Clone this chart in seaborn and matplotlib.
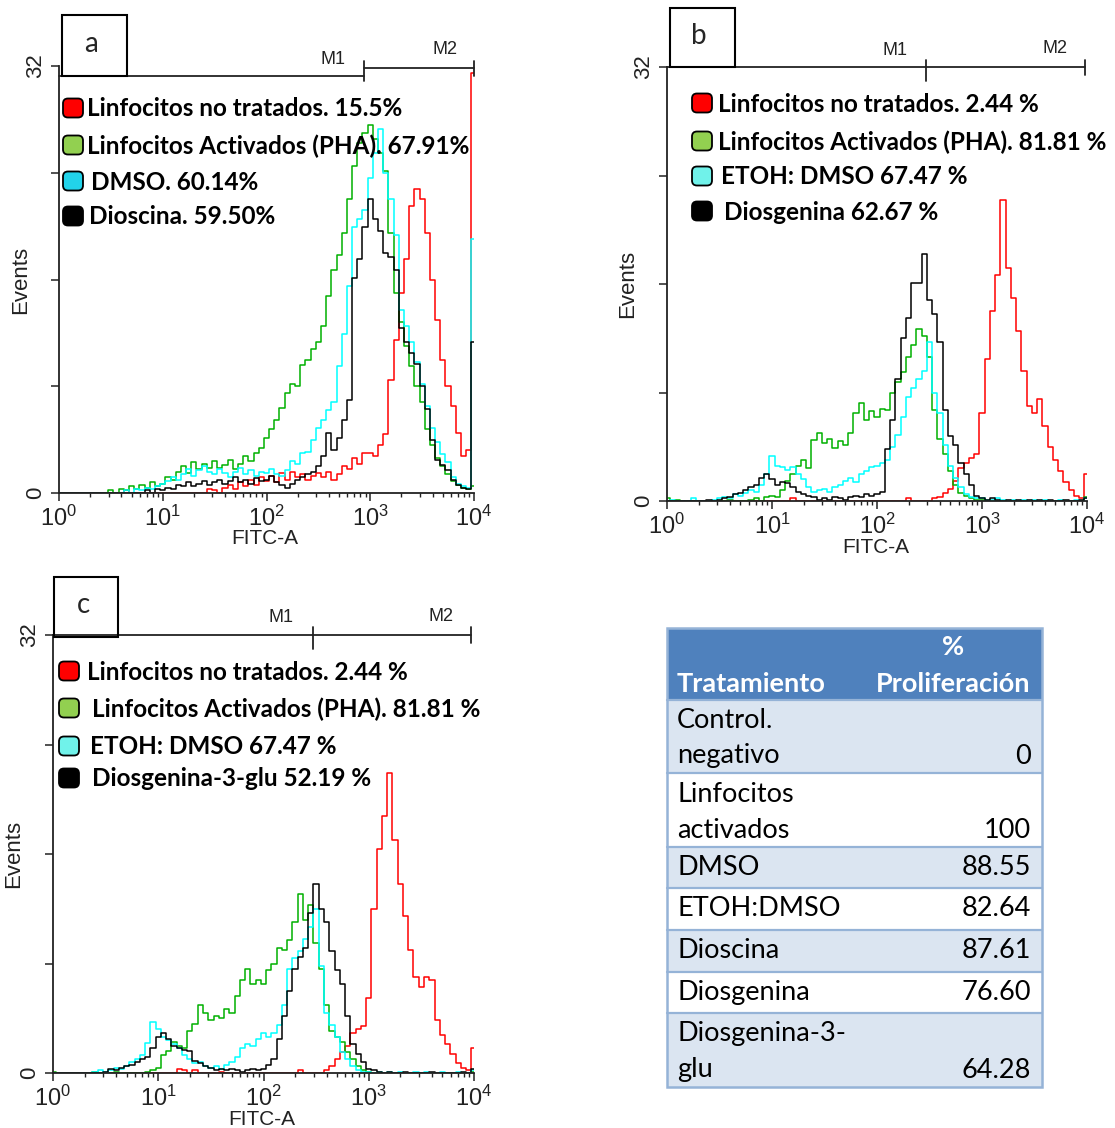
import numpy as np
import pandas as pd
import matplotlib
matplotlib.use("Agg")
import matplotlib.pyplot as plt
import seaborn as sns
from matplotlib.patches import Rectangle, FancyBboxPatch

sns.set_theme(style="white")
plt.rcParams['font.family'] = ['Liberation Sans', 'DejaVu Sans']
plt.rcParams['mathtext.fontset'] = 'custom'
plt.rcParams['mathtext.rm'] = 'Liberation Sans'
plt.rcParams['mathtext.it'] = 'Liberation Sans'

# canales del histograma (log10 FITC-A)
log_fitc = [0.00, 0.05, 0.10, 0.15, 0.20, 0.25, 0.30, 0.35, 0.40, 0.45,
            0.50, 0.55, 0.60, 0.65, 0.70, 0.75, 0.80, 0.85, 0.90, 0.95,
            1.00, 1.05, 1.10, 1.15, 1.20, 1.25, 1.30, 1.35, 1.40, 1.45,
            1.50, 1.55, 1.60, 1.65, 1.70, 1.75, 1.80, 1.85, 1.90, 1.95,
            2.00, 2.05, 2.10, 2.15, 2.20, 2.25, 2.30, 2.35, 2.40, 2.45,
            2.50, 2.55, 2.60, 2.65, 2.70, 2.75, 2.80, 2.85, 2.90, 2.95,
            3.00, 3.05, 3.10, 3.15, 3.20, 3.25, 3.30, 3.35, 3.40, 3.45,
            3.50, 3.55, 3.60, 3.65, 3.70, 3.75, 3.80, 3.85, 3.90, 3.95,
            4.00]

# ---- panel a
a_red = [0, 0, 0, 0, 0, 0, 0, 0, 0, 0,
         0, 0, 0, 0.2, 0, 0, 0, 0, 0, 0,
         0, 0, 0, 0, 0, 0, 0, 0, 0, 0.3,
         0.2, 0, 0.4, 0.6, 0.3, 0.8, 0.5, 1.0, 0.6, 1.2,
         0.9, 1.3, 0.8, 1.5, 1.0, 1.6, 1.2, 1.4, 1.0, 1.3,
         1.5, 1.2, 1.6, 1.0, 1.4, 2.0, 1.8, 2.6, 2.2, 3.0,
         3.0, 2.8, 3.6, 4.4, 8.5, 11.5, 15.0, 17.5, 21.5, 22.8,
         22.0, 19.5, 16.0, 13.0, 10.0, 8.0, 6.5, 4.5, 2.8, 3.2,
         31.5]
a_green = [0, 0, 0, 0, 0, 0, 0, 0, 0, 0,
           0.2, 0, 0.3, 0.2, 0.5, 0.3, 0.6, 0.4, 0.8, 0.5,
           0.7, 1.2, 1.0, 1.6, 2.0, 1.5, 2.3, 1.8, 2.2, 1.9,
           2.4, 1.9, 2.1, 2.5, 1.8, 2.2, 2.8, 2.4, 3.0, 3.4,
           4.1, 4.8, 5.5, 6.4, 7.5, 8.2, 8.0, 9.6, 10.0, 10.8,
           11.3, 12.5, 14.8, 16.7, 17.8, 19.5, 22.0, 24.5, 26.2, 27.0,
           27.6, 26.5, 25.5, 24.1, 19.5, 15.0, 12.8, 11.0, 9.5, 8.0,
           6.8, 4.8, 3.6, 2.6, 2.0, 1.4, 0.9, 0.6, 0.4, 0.3,
           0.5]
a_cyan = [0, 0, 0, 0, 0, 0, 0, 0, 0, 0,
          0, 0, 0, 0.2, 0, 0.3, 0.2, 0.4, 0.3, 0.5,
          0.7, 0.9, 1.2, 1.0, 1.4, 1.8, 1.3, 1.7, 2.0, 1.6,
          1.4, 1.8, 1.5, 1.2, 1.6, 1.9, 1.4, 1.7, 1.3, 1.6,
          1.5, 1.8, 1.4, 1.3, 1.7, 2.4, 2.2, 3.0, 3.1, 4.0,
          4.9, 5.5, 6.2, 6.8, 9.5, 11.9, 15.5, 19.9, 20.5, 21.2,
          23.6, 25.5, 27.3, 24.0, 22.0, 19.3, 13.7, 12.5, 11.3, 9.8,
          8.2, 6.5, 4.9, 3.8, 2.9, 2.3, 1.2, 0.7, 0.5, 0.4,
          19.0]
a_black = [0, 0, 0, 0, 0, 0, 0, 0, 0, 0,
           0, 0, 0, 0, 0, 0, 0, 0.2, 0, 0.3,
           0.2, 0.4, 0.3, 0.6, 0.5, 0.8, 0.5, 0.7, 0.9, 0.6,
           0.8, 1.0, 0.7, 0.9, 1.2, 0.8, 1.0, 0.7, 1.1, 0.9,
           1.0, 1.3, 0.8, 0.6, 0.4, 0.7, 1.0, 1.2, 1.4, 1.6,
           2.0, 2.8, 4.5, 3.2, 4.1, 5.5, 7.0, 16.1, 17.5, 19.9,
           22.0, 20.5, 19.6, 18.0, 17.7, 16.7, 12.4, 11.3, 10.5, 9.7,
           8.0, 6.3, 4.0, 2.5, 2.1, 1.7, 1.0, 0.6, 0.4, 0.3,
           11.3]

# ---- panel b
b_red = [0, 0, 0, 0, 0, 0, 0, 0, 0, 0,
         0, 0, 0, 0, 0, 0, 0, 0, 0, 0,
         0, 0, 0, 0, 0.2, 0, 0, 0, 0, 0,
         0, 0, 0, 0, 0, 0, 0, 0, 0, 0,
         0, 0, 0, 0, 0, 0, 0.2, 0, 0, 0,
         0, 0.2, 0.3, 0.6, 0.9, 1.5, 2.4, 2.8, 3.2, 3.5,
         6.5, 10.5, 14.0, 16.7, 22.2, 17.2, 15.0, 12.5, 9.6, 7.0,
         6.5, 7.5, 5.5, 4.0, 3.0, 2.2, 1.4, 0.8, 0.4, 0.2,
         2.0]
b_green = [0.2, 0, 0.1, 0, 0, 0, 0, 0, 0, 0,
           0, 0, 0.1, 0, 0, 0, 0.1, 0.2, 0, 0.3,
           0.4, 0.3, 0.8, 1.5, 2.0, 2.6, 3.0, 2.4, 4.5, 5.0,
           4.3, 4.6, 3.9, 4.4, 4.1, 5.0, 6.5, 7.2, 6.0, 6.6,
           6.2, 6.8, 6.7, 8.0, 8.8, 9.5, 10.6, 11.5, 12.7, 12.2,
           10.6, 6.7, 4.6, 3.5, 2.2, 1.2, 0.6, 0.4, 0.2, 0.1,
           0.1, 0, 0, 0, 0, 0, 0, 0, 0, 0,
           0, 0, 0, 0, 0, 0, 0, 0, 0, 0,
           0.3]
b_cyan = [0, 0.1, 0, 0, 0, 0.2, 0, 0, 0, 0.1,
          0.2, 0.3, 0.2, 0.5, 0.4, 0.6, 0.8, 0.7, 1.2, 2.0,
          3.3, 2.6, 2.5, 2.3, 2.5, 2.0, 1.6, 1.0, 0.7, 0.8,
          0.9, 0.7, 1.0, 1.2, 1.5, 1.7, 1.4, 2.0, 2.2, 2.5,
          2.6, 2.8, 3.0, 4.0, 4.9, 6.2, 7.7, 8.3, 9.0, 9.6,
          11.7, 8.0, 6.5, 4.1, 2.6, 1.7, 1.0, 0.5, 0.3, 0.2,
          0.2, 0.1, 0.1, 0.2, 0.1, 0, 0.1, 0, 0.1, 0,
          0.1, 0, 0.1, 0, 0, 0.1, 0, 0, 0.1, 0,
          0.2]
b_black = [0, 0, 0, 0, 0, 0, 0, 0, 0.1, 0,
           0.1, 0.2, 0.3, 0.5, 0.6, 0.8, 1.0, 1.2, 1.7, 2.0,
           1.6, 1.2, 1.4, 1.3, 1.0, 0.7, 0.5, 0.4, 0.3, 0.1,
           0.2, 0.1, 0.3, 0.2, 0.1, 0.3, 0.4, 0.3, 0.5, 0.4,
           0.5, 0.7, 3.8, 6.0, 9.0, 12.0, 13.5, 16.1, 16.1, 18.2,
           14.8, 13.8, 11.7, 6.7, 4.8, 4.1, 2.8, 2.0, 1.2, 0.4,
           0.2, 0.1, 0.2, 0.1, 0, 0.1, 0, 0.1, 0, 0.1,
           0, 0.1, 0, 0.1, 0, 0, 0.1, 0, 0, 0.1,
           0.2]

# ---- panel c
c_red = [0, 0, 0, 0, 0, 0, 0, 0, 0, 0,
         0, 0, 0, 0, 0, 0, 0, 0, 0, 0,
         0, 0, 0, 0, 0.3, 0.2, 0, 0.2, 0, 0,
         0, 0, 0.1, 0, 0, 0, 0, 0, 0, 0,
         0, 0, 0, 0, 0, 0, 0, 0.2, 0, 0,
         0, 0, 0.2, 0.5, 1.0, 1.5, 2.0, 2.9, 3.2, 3.4,
         5.5, 12.0, 16.4, 18.8, 21.9, 17.0, 13.8, 11.5, 9.0, 7.0,
         6.3, 7.0, 6.8, 3.9, 2.8, 2.1, 1.4, 0.7, 0.4, 0.2,
         1.8]
c_green = [0.1, 0, 0, 0, 0, 0, 0, 0, 0.1, 0,
           0, 0, 0.1, 0, 0, 0, 0, 0, 0.1, 0.2,
           0.4, 1.3, 1.6, 2.3, 2.0, 1.8, 3.1, 3.6, 5.0, 4.4,
           3.9, 4.2, 4.0, 4.7, 4.4, 5.6, 6.8, 7.6, 6.5, 6.8,
           6.5, 7.5, 8.0, 9.1, 9.0, 9.7, 11.0, 13.1, 11.2, 12.3,
           9.5, 7.6, 5.0, 3.1, 2.6, 2.3, 1.5, 1.0, 0.5, 0.2,
           0.1, 0, 0, 0, 0, 0, 0, 0, 0, 0,
           0, 0, 0, 0, 0, 0, 0, 0, 0, 0,
           0.1]
c_cyan = [0, 0, 0, 0, 0, 0, 0, 0, 0.1, 0.2,
          0.1, 0.2, 0.4, 0.3, 0.5, 0.8, 1.0, 1.3, 2.2, 3.7,
          3.2, 2.6, 2.4, 2.1, 1.8, 1.3, 1.0, 0.7, 0.8, 0.5,
          0.4, 0.5, 0.3, 0.6, 0.8, 1.2, 1.8, 2.1, 2.0, 2.5,
          2.9, 2.6, 2.9, 3.5, 5.0, 7.6, 8.4, 8.9, 9.8, 10.7,
          12.0, 7.8, 4.4, 3.5, 2.6, 1.5, 1.0, 0.5, 0.2, 0.1,
          0.1, 0, 0.1, 0, 0.1, 0, 0.1, 0, 0, 0.1,
          0, 0.1, 0, 0, 0.1, 0, 0, 0.1, 0, 0,
          0.2]
c_black = [0, 0, 0, 0, 0, 0, 0, 0, 0, 0,
           0.1, 0.3, 0.2, 0.4, 0.5, 0.6, 0.8, 1.0, 1.2, 1.8,
           2.6, 2.9, 2.5, 2.0, 1.8, 1.7, 1.6, 0.9, 0.7, 0.5,
           0.4, 0.2, 0.3, 0.2, 0.3, 0.2, 0.1, 0.2, 0.3, 0.2,
           0.3, 0.6, 1.0, 2.5, 4.2, 6.0, 7.6, 8.5, 9.1, 11.7,
           13.8, 12.0, 11.0, 8.9, 7.5, 6.5, 4.2, 2.1, 1.4, 0.8,
           0.3, 0.2, 0.1, 0, 0.1, 0, 0, 0.1, 0, 0,
           0, 0, 0.1, 0, 0, 0, 0, 0, 0.1, 0,
           0.3]

legend_a = ["Linfocitos no tratados. 15.5%", "Linfocitos Activados (PHA). 67.91%",
            "DMSO. 60.14%", "Dioscina. 59.50%"]
legend_b = ["Linfocitos no tratados. 2.44 %", "Linfocitos Activados (PHA). 81.81 %",
            "ETOH: DMSO 67.47 %", "Diosgenina 62.67 %"]
legend_c = ["Linfocitos no tratados. 2.44 %", "Linfocitos Activados (PHA). 81.81 %",
            "ETOH: DMSO 67.47 %", "Diosgenina-3-glu 52.19 %"]

# marcadores M1 / M2 (log10 FITC)
m1_end = [2.94, 2.47, 2.47]
m2_end = [4.00, 3.98, 3.97]

tabla_tratamiento = ["Control.\nnegativo", "Linfocitos\nactivados", "DMSO", "ETOH:DMSO",
                     "Dioscina", "Diosgenina", "Diosgenina-3-\nglu"]
tabla_proliferacion = ["0", "100", "88.55", "82.64", "87.61", "76.60", "64.28"]

line_cols = ["#ff0000", "#00b000", "#00ffff", "#000000"]
box_cols_a = ["#ff0000", "#92d050", "#22d3ea", "#000000"]
box_cols_bc = ["#ff0000", "#92d050", "#70f2ea", "#000000"]

fig = plt.figure(figsize=(11.15, 11.28), dpi=100)
W, H = 1115, 1128


def px_axes(left, top, right, bottom):
    return fig.add_axes([left / W, 1 - bottom / H, (right - left) / W, (bottom - top) / H])


ax_a = px_axes(59, 66, 474, 493)
ax_b = px_axes(667, 67, 1087, 501)
ax_c = px_axes(53, 635, 474, 1073)

panels = [(ax_a, [a_red, a_green, a_cyan, a_black], legend_a),
          (ax_b, [b_red, b_green, b_cyan, b_black], legend_b),
          (ax_c, [c_red, c_green, c_cyan, c_black], legend_c)]

minor_pos = [k + np.log10(m) for k in range(4) for m in range(2, 10)]

for i, (ax, series, labels) in enumerate(panels):
    df = pd.concat([pd.DataFrame({"fitc": log_fitc, "events": s, "muestra": lab})
                    for s, lab in zip(series, labels)], ignore_index=True)
    sns.lineplot(data=df, x="fitc", y="events", hue="muestra", hue_order=labels,
                 palette=dict(zip(labels, line_cols)), estimator=None, sort=False,
                 drawstyle="steps-mid", lw=1.1, legend=False, ax=ax)
    ax.set_xlim(0, 4)
    ax.set_ylim(0, 32)
    ax.set_facecolor("none")
    for sp in ["top", "right"]:
        ax.spines[sp].set_visible(False)
    for sp in ["left", "bottom"]:
        ax.spines[sp].set_color("#222222")
        ax.spines[sp].set_linewidth(1.3)
    ax.set_xticks(range(5))
    ax.set_xticklabels([r"$\mathregular{10^{%d}}$" % k for k in range(5)], fontsize=17)
    ax.set_xticks(minor_pos, minor=True)
    ax.set_yticks([0, 8, 16, 24, 32])
    ax.set_yticklabels(["0", "", "", "", "32"], rotation=90, va="center", fontsize=16)
    ax.tick_params(axis="both", which="major", direction="out", length=6, width=1.1,
                   colors="#222222", left=True, bottom=True, pad=3)
    ax.tick_params(axis="x", which="minor", direction="out", length=3, width=1,
                   colors="#222222", bottom=True)
    ax.set_xlabel("FITC-A", fontsize=15, color="#222222")
    ax.set_ylabel("Events", fontsize=16, color="#222222")
    ax.xaxis.set_label_coords(0.496, -0.085)
    ax.yaxis.set_label_coords(-0.068, 0.5)

    # barras de marcadores
    y1 = 31.25 if i == 0 else 32
    y2 = 31.85 if i == 0 else 32
    kw = dict(color="#222222", lw=1.3, clip_on=False)
    ax.plot([0, m1_end[i]], [y1, y1], **kw)
    ax.plot([m1_end[i], m2_end[i]], [y2, y2], **kw)
    ax.plot([m1_end[i], m1_end[i]], [y2 - 1.0, y2 + 0.55], **kw)
    ax.plot([m2_end[i], m2_end[i]], [y2 - 0.6, y2 + 0.55], **kw)
    ax.text(m1_end[i] - 0.3, y1 + 1.25, "M1", ha="center", va="center", fontsize=13,
            color="#222222", clip_on=False)
    ax.text(m2_end[i] - 0.28, y2 + 1.35, "M2", ha="center", va="center", fontsize=13,
            color="#222222", clip_on=False)

# capa de anotaciones en pixeles
ov = fig.add_axes([0, 0, 1, 1])
ov.set_xlim(0, W)
ov.set_ylim(H, 0)
ov.axis("off")
ov.set_zorder(5)
ov.patch.set_alpha(0)

# cajas de letra de panel
for (x0, y0, x1, y1), letter in [((62, 15, 127, 76), "a"), ((670, 8, 735, 67), "b"),
                                 ((54, 577, 118, 637), "c")]:
    ov.add_patch(Rectangle((x0, y0), x1 - x0, y1 - y0, fill=False, ec="black", lw=1.5))
    ov.text(x0 + 29, (y0 + y1) / 2 - 2, letter, ha="center", va="center", fontsize=20,
            family="Lato")

# leyendas
leg_specs = [(legend_a, box_cols_a, 63, [108, 145, 181, 216], [87, 87, 91, 89]),
             (legend_b, box_cols_bc, 692, [103, 141, 176, 211], [718, 718, 721, 724]),
             (legend_c, box_cols_bc, 59, [671, 708, 746, 778], [87, 92, 90, 92])]
for labels, cols, bx, rows, tx in leg_specs:
    for lab, col, yc, x_t in zip(labels, cols, rows, tx):
        ov.add_patch(FancyBboxPatch((bx, yc - 9.5), 20, 19,
                                    boxstyle="round,pad=0,rounding_size=5",
                                    fc=col, ec="black", lw=1.3))
        ov.text(x_t, yc + 1, lab, ha="left", va="center", fontsize=17.5,
                fontweight="bold", family="Lato", color="black")

# tabla
tx0, tx1 = 667, 1042
row_edges = [700, 773, 847, 888, 930, 972, 1013, 1087]
ov.add_patch(Rectangle((tx0, 628), tx1 - tx0, 700 - 628, fc="#4f81bd", ec="none"))
for r in range(len(tabla_tratamiento)):
    top, bot = row_edges[r], row_edges[r + 1]
    fc = "#dbe5f1" if r % 2 == 0 else "white"
    ov.add_patch(Rectangle((tx0, top), tx1 - tx0, bot - top, fc=fc, ec="none"))
for y in row_edges[:-1]:
    ov.plot([tx0, tx1], [y, y], color="#95b3d7", lw=1.6)
ov.add_patch(Rectangle((tx0, 628), tx1 - tx0, 1087 - 628, fill=False, ec="#95b3d7", lw=1.8))

fs_tab = 19.5
ov.text(677, 684, "Tratamiento", ha="left", va="center", fontsize=fs_tab, fontweight="bold",
        color="white", family="Lato")
ov.text(953, 647, "%", ha="center", va="center", fontsize=fs_tab, fontweight="bold",
        color="white", family="Lato")
ov.text(953, 684, "Proliferación", ha="center", va="center", fontsize=fs_tab,
        fontweight="bold", color="white", family="Lato")

for r, (name, val) in enumerate(zip(tabla_tratamiento, tabla_proliferacion)):
    top, bot = row_edges[r], row_edges[r + 1]
    parts = name.split("\n")
    if len(parts) == 1:
        ov.text(677, (top + bot) / 2, name, ha="left", va="center", fontsize=fs_tab,
                family="Lato", color="black")
        ov.text(1031, (top + bot) / 2, val, ha="right", va="center", fontsize=fs_tab,
                family="Lato", color="black")
    else:
        ov.text(677, bot - 53, parts[0], ha="left", va="center", fontsize=fs_tab,
                family="Lato", color="black")
        ov.text(677, bot - 17, parts[1], ha="left", va="center", fontsize=fs_tab,
                family="Lato", color="black")
        ov.text(1031, bot - 17, val, ha="right", va="center", fontsize=fs_tab,
                family="Lato", color="black")

fig.savefig("out.png", dpi=100, facecolor="white")
